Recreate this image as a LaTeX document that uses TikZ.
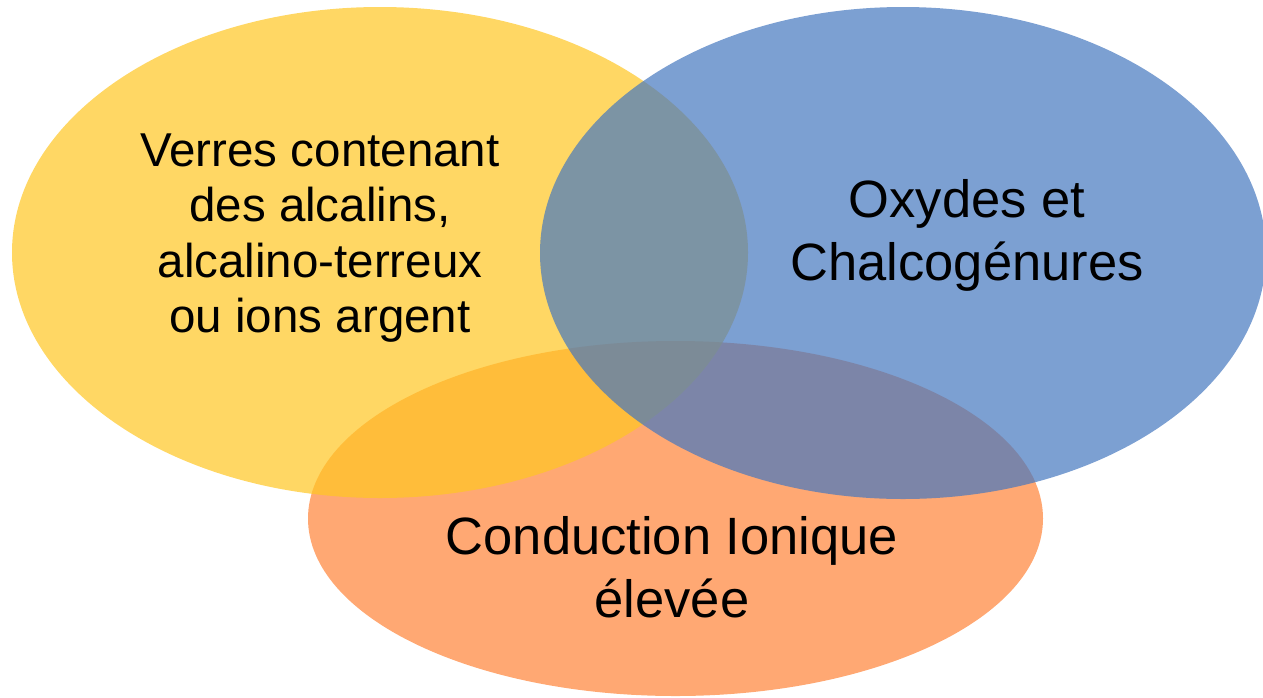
\documentclass[tikz,border=0pt]{standalone}
\usepackage{fontspec}
\setmainfont{Liberation Sans}
\definecolor{vyellow}{RGB}{255,198,34}
\definecolor{vblue}{RGB}{69,119,191}
\definecolor{vorange}{RGB}{255,131,55}
\begin{document}
\begin{tikzpicture}[x=1pt,y=-1pt,
  setfill/.style={fill opacity=0.7, draw=none},
  lbl/.style={align=center, inner sep=0pt, text=black, text opacity=1},
  bigfont/.style={font=\fontsize{52.5}{63}\selectfont},
  smallfont/.style={font=\fontsize{47.5}{55.5}\selectfont}]
\useasboundingbox (0,0) rectangle (1263,697);
\fill[vorange, setfill] (675.5,518.5) ellipse [x radius=367.5pt, y radius=177.5pt];
\fill[vyellow, setfill] (380,252.5) ellipse [x radius=368pt, y radius=245.5pt];
\fill[vblue, setfill] (903,253) ellipse [x radius=363pt, y radius=246pt];
\node[lbl, smallfont] (verres) at (320,238) {Verres contenant\\des alcalins,\\alcalino-terreux\\ou ions argent};
\node[lbl, bigfont] (oxydes) at (967,235) {Oxydes et\\Chalcogénures};
\node[lbl, bigfont] (conduction) at (672,567) {Conduction Ionique\\élevée};
\end{tikzpicture}
\end{document}
